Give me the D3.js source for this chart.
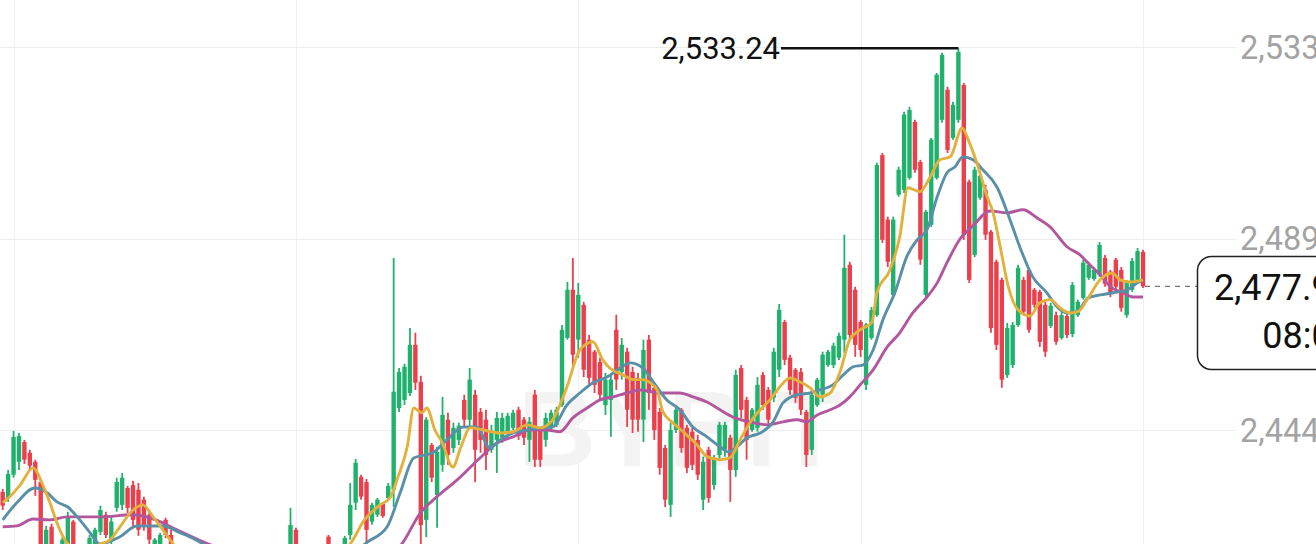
<!DOCTYPE html>
<html><head><meta charset="utf-8">
<script src="https://cdn.jsdelivr.net/npm/d3@7"></script>
<style>html,body{margin:0;padding:0;background:#fff;overflow:hidden}svg{display:block}</style>
</head><body><svg id="c" width="1316" height="544"></svg>
<script>
const opens = [2430.1,2428.7,2434.1,2437.1,2441.7,2439.2,2437.1,2432.4,2416.2,2422.0,
2417.1,2415.5,2417.8,2423.2,2417.5,2414.3,2416.2,2417.8,2420.8,2424.8,
2419.0,2426.4,2427.1,2431.0,2431.7,2430.6,2428.3,2424.8,2417.1,2417.8,
2423.6,2420.1,2416.0,2413.5,2411.0,2412.2,2409.0,2407.5,2408.8,2405.9,
2404.2,2406.0,2403.5,2402.8,2404.6,2406.9,2405.2,2408.1,2407.0,2409.9,
2411.5,2410.2,2412.8,2414.8,2421.3,2415.5,2413.0,2414.2,2412.1,2414.0,
2419.7,2415.2,2416.4,2417.1,2420.1,2427.6,2433.6,2432.4,2423.2,2424.8,
2427.3,2428.7,2430.6,2449.6,2451.5,2453.1,2464.3,2455.7,2423.6,2441.0,
2429.4,2436.4,2446.9,2440.3,2442.2,2451.5,2446.9,2452.7,2448.7,2446.9,
2439.9,2442.2,2442.7,2444.1,2445.0,2449.2,2446.9,2442.2,2452.7,2444.5,
2442.2,2445.0,2445.7,2450.3,2465.9,2477.1,2465.5,2473.6,2465.5,2462.7,
2460.3,2450.3,2451.5,2467.8,2458.0,2462.7,2458.0,2456.6,2446.9,2465.5,
2454.3,2448.7,2440.3,2427.1,2444.5,2449.2,2445.0,2444.1,2442.2,2428.3,
2439.9,2431.7,2438.7,2439.9,2442.7,2435.2,2458.9,2451.5,2444.5,2445.0,
2457.3,2453.8,2452.0,2458.5,2469.6,2461.3,2458.5,2458.0,2448.7,2439.9,
2450.3,2452.7,2459.6,2459.6,2461.3,2465.5,2482.9,2477.1,2469.6,2455.0,
2465.9,2471.2,2508.4,2493.4,2475.9,2499.2,2500.3,2503.1,2516.1,2506.8,
2475.9,2492.2,2503.1,2516.6,2523.6,2512.4,2516.6,2524.7,2502.2,2485.2,
2498.5,2500.3,2490.6,2483.6,2479.4,2457.3,2459.6,2468.9,2479.4,2481.7,
2477.1,2476.6,2473.6,2468.7,2471.2,2465.9,2471.0,2466.8,2471.2,2475.2,
2479.9,2479.6,2480.6,2484.5,2481.3,2484.1,2481.7,2471.2,2477.1,2479.4,
2485.9];
const highs = [2430.8,2435.2,2444.3,2443.8,2442.2,2439.9,2437.6,2432.9,2422.2,2422.7,
2417.8,2419.7,2425.5,2423.6,2418.0,2417.5,2420.1,2421.8,2426.9,2425.5,
2424.3,2433.4,2434.5,2431.5,2432.7,2432.2,2429.0,2425.5,2419.4,2420.6,
2424.1,2421.3,2417.0,2414.5,2413.0,2413.0,2410.2,2410.0,2409.5,2407.0,
2407.2,2406.8,2405.0,2405.5,2407.8,2408.0,2409.0,2409.6,2410.8,2412.6,
2413.0,2414.0,2416.5,2426.4,2421.8,2416.8,2415.9,2415.0,2416.2,2417.2,
2420.1,2417.8,2417.6,2419.9,2432.2,2437.8,2434.1,2433.1,2427.6,2428.7,
2427.6,2432.2,2484.5,2458.9,2459.9,2468.2,2467.1,2457.1,2447.5,2441.5,
2440.6,2452.2,2448.5,2446.2,2446.2,2452.7,2458.9,2453.8,2449.6,2449.2,
2445.7,2448.7,2448.5,2448.5,2449.2,2449.9,2447.5,2447.5,2453.8,2445.2,
2448.5,2449.2,2449.9,2468.9,2478.9,2484.5,2478.7,2474.3,2466.6,2463.1,
2461.3,2457.8,2457.3,2471.3,2465.9,2463.6,2459.2,2457.8,2465.5,2466.6,
2455.5,2449.6,2441.0,2446.2,2449.9,2449.6,2445.7,2445.0,2443.4,2438.3,
2440.6,2438.7,2446.4,2446.4,2443.4,2458.5,2459.6,2452.2,2449.6,2456.8,
2458.0,2454.5,2463.6,2473.8,2470.1,2462.0,2458.9,2458.9,2449.2,2453.8,
2456.6,2462.7,2463.1,2464.8,2467.1,2489.9,2483.6,2477.8,2470.1,2469.4,
2473.1,2506.6,2508.9,2494.1,2494.1,2505.7,2518.5,2519.6,2516.6,2507.3,
2495.7,2512.4,2527.5,2532.2,2524.3,2520.8,2533.24,2525.2,2502.7,2505.7,
2504.3,2501.5,2491.0,2484.1,2479.9,2469.4,2469.6,2482.9,2480.1,2482.2,
2477.5,2477.1,2474.3,2474.1,2472.0,2472.0,2471.7,2478.9,2474.8,2484.1,
2483.6,2482.2,2488.2,2485.2,2481.7,2484.5,2482.4,2479.4,2484.5,2486.8,
2486.4];
const lows = [2425.9,2427.8,2433.4,2435.2,2436.6,2435.2,2429.2,2414.3,2414.3,2415.2,
2412.9,2414.3,2416.6,2416.2,2413.1,2412.9,2415.2,2416.6,2420.1,2419.4,
2417.8,2425.5,2425.9,2425.2,2422.0,2419.9,2421.1,2417.8,2416.2,2416.6,
2419.4,2415.2,2412.0,2409.8,2409.5,2408.0,2406.0,2406.5,2404.8,2403.0,
2403.5,2402.1,2401.2,2401.8,2403.9,2404.1,2404.5,2405.8,2406.2,2408.8,
2409.1,2409.5,2411.7,2413.8,2414.3,2411.9,2411.5,2410.6,2411.0,2413.0,
2414.3,2413.5,2413.9,2416.2,2419.0,2425.9,2428.3,2416.6,2422.5,2424.3,
2424.1,2428.3,2426.6,2448.7,2450.3,2452.4,2453.8,2417.1,2419.6,2432.4,
2421.8,2434.8,2436.4,2439.2,2441.0,2445.2,2445.2,2432.4,2439.2,2435.2,
2439.2,2434.5,2441.5,2442.9,2444.5,2442.2,2441.0,2437.1,2435.9,2435.9,
2440.6,2444.5,2445.2,2449.9,2465.5,2459.6,2461.3,2456.8,2455.0,2453.1,
2451.5,2448.0,2442.9,2453.8,2456.2,2445.2,2443.8,2444.1,2441.7,2449.2,
2442.2,2434.1,2426.6,2424.3,2443.8,2439.2,2434.5,2435.2,2432.9,2425.9,
2427.6,2430.6,2437.6,2438.3,2427.8,2433.6,2447.3,2437.6,2444.1,2444.1,
2449.2,2445.2,2451.0,2456.8,2459.6,2452.7,2450.8,2448.0,2435.9,2438.7,
2449.9,2451.0,2459.2,2458.9,2460.8,2462.4,2465.5,2461.5,2461.5,2453.8,
2465.5,2470.8,2488.0,2482.4,2475.4,2498.7,2499.6,2502.7,2504.3,2482.9,
2475.4,2491.7,2502.7,2515.9,2508.9,2512.0,2515.9,2488.7,2478.7,2484.7,
2498.0,2488.7,2467.1,2463.1,2454.3,2456.6,2458.9,2468.5,2471.2,2467.1,
2472.9,2463.8,2461.5,2468.2,2464.3,2465.5,2465.9,2466.1,2470.8,2474.8,
2479.4,2479.2,2480.1,2477.8,2475.4,2477.1,2472.0,2470.6,2476.6,2478.7,
2477.5];
const closes = [2426.9,2434.3,2442.9,2443.1,2437.6,2436.2,2432.9,2416.6,2421.3,2417.1,
2414.3,2419.0,2424.1,2417.5,2414.8,2416.6,2419.4,2421.3,2425.9,2420.1,
2423.2,2432.4,2433.4,2426.4,2423.6,2421.3,2422.0,2419.0,2419.0,2420.1,
2420.1,2416.6,2413.5,2411.0,2412.2,2409.0,2407.5,2408.8,2405.9,2404.2,
2406.0,2403.5,2402.8,2404.6,2406.9,2405.2,2408.1,2407.0,2409.9,2411.5,
2410.2,2412.8,2414.6,2422.4,2415.5,2413.0,2414.2,2412.1,2414.0,2415.6,
2415.2,2416.4,2415.0,2419.4,2427.1,2436.9,2429.0,2421.3,2427.1,2428.3,
2424.5,2431.5,2453.4,2458.0,2459.2,2464.3,2455.5,2422.4,2446.9,2433.4,
2439.4,2448.0,2438.7,2445.0,2445.5,2446.9,2456.2,2439.9,2442.2,2438.7,
2444.1,2447.3,2447.3,2447.8,2448.5,2443.1,2442.7,2446.4,2437.6,2437.6,
2447.3,2448.5,2449.2,2467.8,2477.1,2462.0,2475.9,2458.5,2456.6,2455.0,
2452.7,2456.2,2456.2,2456.2,2464.3,2449.2,2446.9,2446.9,2463.1,2453.1,
2444.5,2435.7,2428.3,2444.5,2449.2,2440.3,2435.7,2436.4,2434.1,2437.1,
2428.7,2438.0,2445.7,2445.7,2435.2,2457.3,2449.2,2442.2,2449.2,2455.0,
2450.3,2446.9,2462.7,2472.4,2460.8,2453.8,2452.0,2449.2,2438.7,2452.7,
2456.2,2462.0,2462.7,2464.1,2466.4,2482.2,2466.6,2464.3,2463.1,2469.0,
2472.4,2506.1,2488.7,2483.6,2493.4,2505.0,2517.8,2518.9,2505.0,2484.1,
2495.2,2512.0,2527.1,2531.7,2509.6,2520.1,2532.4,2489.9,2479.4,2505.0,
2503.6,2489.9,2468.2,2464.3,2456.2,2468.2,2468.9,2482.2,2472.0,2467.8,
2473.6,2465.0,2462.7,2473.4,2465.0,2471.2,2466.6,2478.2,2474.3,2483.4,
2482.9,2481.7,2487.5,2478.5,2476.2,2477.8,2472.9,2478.7,2483.8,2486.1,
2477.9];

// moving averages: [candle index, value]
const ma7 = [[0,2427.6],[1.3,2429.0],[3.2,2431.7],[5.6,2435.7],[7.4,2431.7],[8.7,2427.6],[10,2422.9],[12,2418.0],[14.2,2416.6],[16.1,2417.1],[18,2418.0],[19.8,2419.0],[21.6,2422.0],[24,2425.9],[25.8,2427.1],[27.7,2424.3],[29.5,2421.3],[31.4,2418.0],[34,2413.0],[38,2408.5],[42,2405.0],[46,2406.0],[50,2409.5],[54,2414.5],[58,2415.0],[61,2415.5],[64,2418.0],[66.4,2423.2],[69.5,2427.1],[71.3,2428.7],[72.8,2433.6],[74.5,2440.6],[75.7,2449.6],[77.2,2448.5],[78.1,2449.6],[79.6,2444.5],[80.9,2441.7],[82.9,2435.9],[84.4,2440.6],[86.1,2445.0],[88.5,2444.5],[91.6,2443.8],[94,2444.1],[96.6,2445.7],[99,2445.0],[101.3,2446.9],[103.9,2454.5],[106.3,2463.1],[108.7,2465.0],[110.5,2460.8],[111.8,2458.9],[114.2,2457.3],[116.1,2456.2],[117.9,2456.2],[119.2,2455.5],[120.5,2453.8],[121.6,2448.7],[123.4,2446.2],[125.3,2444.1],[127.9,2441.0],[129.7,2438.3],[132.1,2437.6],[133.9,2438.0],[135.8,2442.2],[137.6,2446.2],[139.5,2449.2],[141.3,2451.5],[143.1,2454.5],[145,2456.6],[146.8,2455.7],[148.7,2454.3],[150.5,2452.2],[152.4,2453.1],[154.2,2458.0],[156,2465.5],[157.9,2467.8],[160.1,2469.6],[161,2476.4],[163.4,2481.7],[165.2,2489.4],[166.7,2500.8],[168.9,2499.9],[170.8,2503.3],[172.6,2507.3],[174.5,2508.0],[176.7,2514.7],[177.8,2512.0],[179.4,2506.6],[181.3,2498.7],[182.4,2495.0],[183.7,2487.1],[185.2,2477.8],[187,2472.4],[189.2,2471.0],[191,2474.1],[192.9,2474.8],[194.7,2472.9],[196.6,2471.7],[198,2472.0],[199.9,2475.2],[202.1,2479.4],[204.3,2481.0],[205.8,2479.4],[207.6,2478.9],[210,2479.4]];
const ma25 = [[0,2423.6],[2.6,2427.6],[5.9,2431.0],[8.2,2429.9],[10,2427.8],[12,2426.6],[14.2,2423.6],[16.1,2420.6],[17.9,2418.0],[21.6,2419.7],[24.7,2422.2],[29.5,2422.2],[32.7,2420.6],[34.9,2419.4],[36.9,2418.0],[42,2414.5],[48,2411.0],[54,2410.0],[60,2412.0],[64,2414.5],[66.7,2418.0],[70.8,2422.0],[73.2,2429.9],[75.7,2438.0],[79.2,2439.2],[81.8,2442.2],[84.8,2445.2],[87.3,2445.2],[89.7,2440.3],[91.6,2442.2],[94,2443.8],[96.6,2444.5],[99,2445.0],[101.3,2445.2],[103.9,2450.3],[106.3,2453.1],[108.7,2455.5],[111.3,2456.8],[113.7,2458.9],[115.5,2460.1],[117.9,2458.9],[119.8,2455.7],[122.3,2451.5],[124.7,2449.2],[127.1,2445.2],[129.7,2442.9],[132.1,2440.6],[133.6,2439.4],[135.2,2440.6],[137.1,2442.7],[139.5,2443.8],[141.9,2446.4],[143.7,2450.8],[146.3,2452.7],[148.7,2453.1],[150.5,2453.8],[152.9,2455.0],[154.8,2457.3],[156.6,2459.2],[158.4,2459.6],[160.3,2463.1],[162.1,2470.1],[164.3,2476.4],[166.5,2484.8],[168.4,2488.7],[170.2,2491.0],[172.1,2498.7],[173.9,2504.3],[175.4,2505.7],[176.8,2508.0],[178.7,2507.3],[180.5,2505.0],[183.1,2501.0],[185.5,2493.4],[187.3,2487.1],[189.7,2480.1],[192.3,2476.4],[194.2,2473.1],[196,2471.7],[197.8,2472.0],[199.9,2475.2],[202.1,2475.9],[204.5,2476.4],[207.1,2477.1],[208.9,2478.7],[210,2479.4]];
const ma99 = [[0,2422.0],[2.6,2422.2],[5.6,2423.8],[8.7,2423.6],[11.8,2424.3],[17.9,2424.3],[24,2424.8],[27.1,2424.1],[32.1,2421.3],[36.9,2418.5],[45,2415.0],[55,2412.5],[65,2412.0],[70,2414.5],[73.5,2418.0],[76.9,2425.2],[80,2429.0],[83.7,2432.9],[87.9,2438.0],[91,2441.5],[94,2442.9],[97.1,2444.5],[100.2,2444.5],[102.6,2444.1],[105,2447.3],[107.6,2449.6],[110,2451.5],[112.4,2452.2],[115,2453.1],[117.4,2453.8],[121.1,2453.1],[124.7,2453.1],[127.1,2452.2],[129.7,2451.0],[132.1,2449.2],[134.5,2447.5],[137.6,2446.4],[140.8,2445.7],[143.7,2446.4],[146.3,2446.9],[148.1,2446.4],[150,2448.0],[152.4,2449.2],[154.2,2450.3],[156,2452.2],[157.9,2455.0],[160.3,2458.5],[162.9,2463.8],[165.2,2467.1],[167.6,2471.7],[170.2,2475.4],[172.1,2478.7],[173.9,2483.4],[176.3,2488.9],[178.7,2492.0],[181.8,2495.4],[185,2495.0],[187.9,2495.7],[190.5,2493.8],[192.9,2491.7],[196,2487.1],[198.4,2485.2],[200.2,2482.9],[202.1,2480.6],[204,2477.8],[206.3,2476.4],[208.2,2475.4],[210,2475.4]];

const priceTicks = [2533.5, 2489.0, 2444.5];
const timeGridIdx = [2, 54, 106, 158, 210];
const maxPrice = 2533.24, maxIdx = 176;
const lastPrice = 2477.9;
const countdown = "08:04";
const watermark = "BYBIT";

const svg = d3.select('#c');
const W = 1316, H = 544;
const x = d3.scaleLinear().domain([0, 210]).range([2.7, 1143]);
const y = d3.scaleLinear().domain([2444.5, 2533.3]).range([430, 48]);
const fmt = d3.format(',.2f');
const FONT = 'Roboto, "Noto Sans", sans-serif';

svg.append('rect').attr('width', W).attr('height', H).attr('fill', '#fff');

// grid
svg.append('g').selectAll('line').data(timeGridIdx).join('line')
  .attr('x1', d => Math.round(x(d)) + 0.5).attr('x2', d => Math.round(x(d)) + 0.5)
  .attr('y1', 0).attr('y2', H).attr('stroke', '#f0f0f0').attr('stroke-width', 1);
svg.append('g').selectAll('line').data(priceTicks).join('line')
  .attr('x1', 0).attr('x2', 1236)
  .attr('y1', d => Math.round(y(d)) + 0.5).attr('y2', d => Math.round(y(d)) + 0.5)
  .attr('stroke', '#ececec').attr('stroke-width', 1);

// watermark
svg.append('text').attr('x', 518).attr('y', 466).text(watermark)
  .attr('font-family', 'Arial, "Liberation Sans", sans-serif').attr('font-weight', 700)
  .attr('font-size', 108).attr('fill', '#f3f3f3');

// candles
const data = d3.range(opens.length).map(i => ({i, o: opens[i], h: highs[i], l: lows[i], c: closes[i]}));
const up = '#20b26c', down = '#ea3f4c';
const g = svg.append('g');
g.selectAll('line').data(data).join('line')
  .attr('x1', d => x(d.i)).attr('x2', d => x(d.i))
  .attr('y1', d => y(d.h)).attr('y2', d => y(d.l))
  .attr('stroke', d => d.c >= d.o ? up : down).attr('stroke-width', 1.8);
g.selectAll('rect').data(data).join('rect')
  .attr('x', d => x(d.i) - 2.2).attr('width', 4.4)
  .attr('y', d => y(Math.max(d.o, d.c)))
  .attr('height', d => Math.max(1.2, Math.abs(y(d.o) - y(d.c))))
  .attr('fill', d => d.c >= d.o ? up : down);

// moving averages
const line = d3.line().x(d => x(d[0])).y(d => y(d[1])).curve(d3.curveMonotoneX);
[[ma99, '#b2569e'], [ma25, '#5a8fa8'], [ma7, '#e2b13c']].forEach(([arr, col]) => {
  svg.append('path').datum(arr).attr('d', line).attr('fill', 'none')
    .attr('stroke', col).attr('stroke-width', 2.9).attr('stroke-linejoin', 'round');
});

// max annotation
svg.append('line').attr('x1', 781).attr('x2', x(maxIdx)).attr('y1', y(maxPrice)).attr('y2', y(maxPrice))
  .attr('stroke', '#111').attr('stroke-width', 2.6);
svg.append('text').attr('x', 780).attr('y', y(maxPrice)).attr('dy', '0.35em')
  .attr('text-anchor', 'end').attr('font-family', FONT).attr('font-size', 31).attr('fill', '#111')
  .text(fmt(maxPrice));

// right price axis labels
const axis = d3.axisRight(y).tickValues(priceTicks).tickSize(0).tickPadding(0).tickFormat(fmt);
const ag = svg.append('g').attr('transform', 'translate(1240,0)').call(axis);
ag.select('.domain').remove();
ag.selectAll('text').attr('font-family', FONT).attr('font-size', 32.5).attr('fill', '#a3a3a3')
  .attr('dy', '0.35em').attr('text-anchor', 'start');

// last price dashed line + box
const ly = y(lastPrice);
svg.append('line').attr('x1', x(210) + 2).attr('x2', 1197).attr('y1', ly).attr('y2', ly)
  .attr('stroke', '#555').attr('stroke-width', 1).attr('stroke-dasharray', '5,5');
svg.append('rect').attr('x', 1197.5).attr('y', 256.5).attr('width', 190).attr('height', 113).attr('rx', 14)
  .attr('fill', '#fff').attr('stroke', '#222').attr('stroke-width', 1.5);
svg.append('text').attr('x', 1352).attr('y', 300).attr('text-anchor', 'end')
  .attr('font-family', FONT).attr('font-size', 36).attr('fill', '#111').text(fmt(lastPrice));
svg.append('text').attr('x', 1352).attr('y', 348).attr('text-anchor', 'end')
  .attr('font-family', FONT).attr('font-size', 36).attr('fill', '#111').text(countdown);
</script></body></html>
